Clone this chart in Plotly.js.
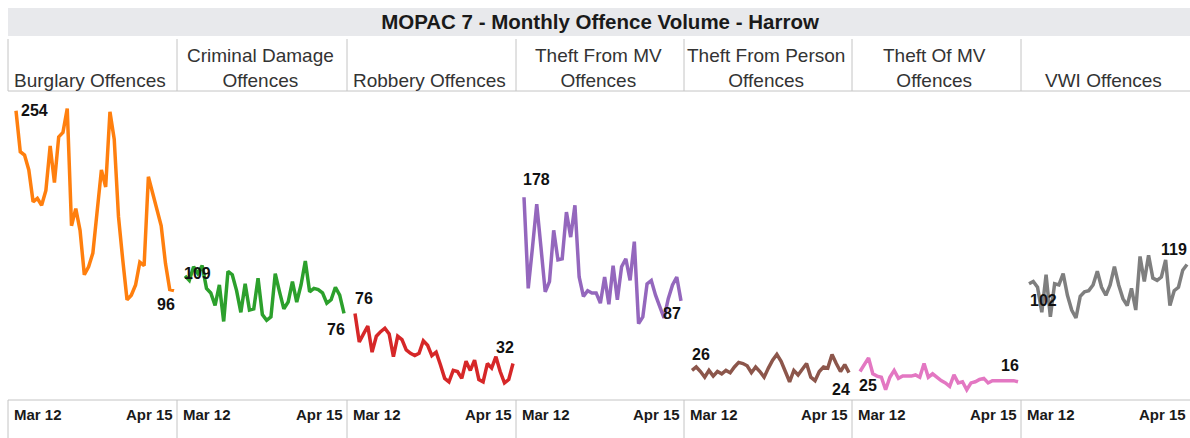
<!DOCTYPE html>
<html><head><meta charset="utf-8">
<script src="https://cdn.plot.ly/plotly-3.0.1.min.js"></script>
<style>html,body{margin:0;padding:0;background:#fff;}#chart{width:1190px;height:438px;}</style>
</head><body><div id="chart"></div>
<script>
const months = ["Mar 12","Apr 12","May 12","Jun 12","Jul 12","Aug 12","Sep 12","Oct 12","Nov 12","Dec 12",
  "Jan 13","Feb 13","Mar 13","Apr 13","May 13","Jun 13","Jul 13","Aug 13","Sep 13","Oct 13","Nov 13","Dec 13",
  "Jan 14","Feb 14","Mar 14","Apr 14","May 14","Jun 14","Jul 14","Aug 14","Sep 14","Oct 14","Nov 14","Dec 14",
  "Jan 15","Feb 15","Mar 15","Apr 15"];
const panelNames = ["Burglary Offences","Criminal Damage<br>Offences","Robbery Offences","Theft From MV<br>Offences",
  "Theft From Person<br>Offences","Theft Of MV<br>Offences","VWI Offences"];
const chartTitle = "MOPAC 7 - Monthly Offence Volume - Harrow";

const burglary = [254,218,215,202,174,177,171,184,223,191,231,235,256,153,168,149,110,117,129,164,202,187,253,229,161,123,88,92,101,121,118,196,181,167,153,120,97,96];
const criminalDamage = [109,105,117,111,118,98,94,83,101,69,113,110,96,77,102,79,80,107,75,70,73,111,95,80,86,104,86,101,122,95,98,97,94,85,88,99,92,76];
const robbery = [76,51,58,65,42,56,60,63,58,38,56,53,44,41,39,41,52,48,39,42,31,19,16,26,25,19,34,26,35,18,16,32,28,38,25,15,18,32];
const theftFromMV = [178,98,134,172,134,95,104,149,123,124,165,143,171,108,91,96,94,94,85,108,84,118,88,117,124,105,139,67,73,102,105,92,82,72,89,101,108,87];
const theftFromPerson = [26,29,25,20,26,21,25,23,26,24,29,33,32,30,24,29,25,20,28,35,40,34,25,16,26,22,27,32,20,17,25,29,28,40,32,25,31,24];
const theftOfMV = [25,31,37,23,21,20,9,20,26,19,21,21,21,22,20,32,20,23,20,17,15,12,22,15,16,9,15,16,18,19,15,17,17,17,17,17,17,16];
const vwi = [102,104,99,77,110,73,102,101,111,92,79,72,91,95,96,101,113,99,92,101,117,101,89,83,98,79,126,104,127,107,105,108,123,83,96,99,114,119];

const seriesValues = [burglary, criminalDamage, robbery, theftFromMV, theftFromPerson, theftOfMV, vwi];
const colors = ['#ff7f0e','#2ca02c','#d62728','#9467bd','#8c564b','#e377c2','#7f7f7f'];

// layout geometry (pixels)
const W = 1190, H = 438;
const edges = [8,177,347,516,684,852,1021,1190];
const plotTop = 95, plotBottom = 400;
const yMax = 267.8;
const px = p => p / W, py = p => 1 - p / H;

// label placement styles [xanchor, xshift, yanchor, yshift]
const startPlace = [["left",4,"middle",0],["left",-2,"middle",2],["left",-1,"bottom",5],["left",-2,"bottom",8],
  ["left",-1,"bottom",6],["left",-2,"top",-4],["left",0,"top",-7]];
const endPlace = [["right",2,"top",-4],["right",2,"top",-7],["right",2,"bottom",7],["right",1,"top",-3],
  ["right",2,"top",-7],["right",2,"bottom",7],["right",1,"bottom",5]];

const data = [];
const layout = {
  width: W, height: H, margin: {l:0,r:0,t:0,b:0},
  paper_bgcolor: '#fff', plot_bgcolor: 'rgba(0,0,0,0)',
  showlegend: false,
  font: {family: 'Liberation Sans, Arial, sans-serif', color: '#333'},
  title: {text: '<b>' + chartTitle + '</b>', x: px(600), xanchor: 'center', xref: 'paper', yref: 'paper',
          y: py(22), yanchor: 'middle', font: {size: 20.5, color: '#1a1a1a', family: 'Liberation Sans, Arial, sans-serif'}},
  yaxis: {range: [0, yMax], domain: [py(plotBottom), py(plotTop)], visible: false, fixedrange: true},
  shapes: [], annotations: []
};

// background band and rules
layout.shapes.push({type:'rect', xref:'paper', yref:'paper', x0:px(edges[0]), x1:1, y0:py(36), y1:py(8),
  fillcolor:'#e8e9ec', line:{width:0}, layer:'below'});
layout.shapes.push({type:'line', xref:'paper', yref:'paper', x0:px(edges[0]), x1:1, y0:py(91), y1:py(91),
  line:{color:'#c4c4c4', width:1}});
layout.shapes.push({type:'line', xref:'paper', yref:'paper', x0:px(edges[0]), x1:1, y0:py(400), y1:py(400),
  line:{color:'#c4c4c4', width:1}});
for (let i = 0; i < 7; i++) {
  layout.shapes.push({type:'line', xref:'paper', yref:'paper', x0:px(edges[i]), x1:px(edges[i]), y0:py(39), y1:py(91),
    line:{color:'#c4c4c4', width:1}});
  layout.shapes.push({type:'line', xref:'paper', yref:'paper', x0:px(edges[i]), x1:px(edges[i]), y0:py(400), y1:py(438),
    line:{color:'#c4c4c4', width:1}});
}

for (let i = 0; i < 7; i++) {
  const left = edges[i], right = edges[i+1];
  const step = (right - left - 11) / (months.length - 1);
  const axName = i === 0 ? 'xaxis' : 'xaxis' + (i+1);
  const xr = i === 0 ? 'x' : 'x' + (i+1);
  layout[axName] = {domain: [px(left), px(right)], type: 'category', range: [-8/step, months.length - 1 + 3/step],
    anchor: 'y', showgrid: false, zeroline: false, showticklabels: false, ticks: '', showline: false, fixedrange: true};
  const vals = seriesValues[i];
  data.push({type:'scatter', mode:'lines', x: months, y: vals, xaxis: xr, yaxis: 'y',
    line: {color: colors[i], width: 3.5}, hoverinfo: 'skip'});

  // panel header
  layout.annotations.push({xref:'paper', yref:'paper', x: px((left+right)/2 - 2), y: py(93), xanchor:'center', yanchor:'bottom',
    text: panelNames[i], showarrow:false, font:{size:19, color:'#333'}});
  // tick labels
  layout.annotations.push({xref: xr, yref:'paper', x: months[0], y: py(414), xanchor:'left', yanchor:'middle', xshift:-4,
    text:'<b>' + months[0] + '</b>', showarrow:false, font:{size:15, color:'#1a1a1a'}});
  layout.annotations.push({xref: xr, yref:'paper', x: months[months.length-1], y: py(414), xanchor:'right', yanchor:'middle', xshift:1,
    text:'<b>' + months[months.length-1] + '</b>', showarrow:false, font:{size:15, color:'#1a1a1a'}});
  // start / end value labels
  const s = startPlace[i], e = endPlace[i];
  layout.annotations.push({xref: xr, yref:'y', x: months[0], y: vals[0], xanchor:s[0], xshift:s[1], yanchor:s[2], yshift:s[3],
    text:'<b>' + vals[0] + '</b>', showarrow:false, font:{size:16, color:'#111'}, borderpad:0});
  layout.annotations.push({xref: xr, yref:'y', x: months[months.length-1], y: vals[vals.length-1], xanchor:e[0], xshift:e[1], yanchor:e[2], yshift:e[3],
    text:'<b>' + vals[vals.length-1] + '</b>', showarrow:false, font:{size:16, color:'#111'}, borderpad:0});
}

Plotly.newPlot('chart', data, layout, {staticPlot: true, displayModeBar: false});
</script>
</body></html>
